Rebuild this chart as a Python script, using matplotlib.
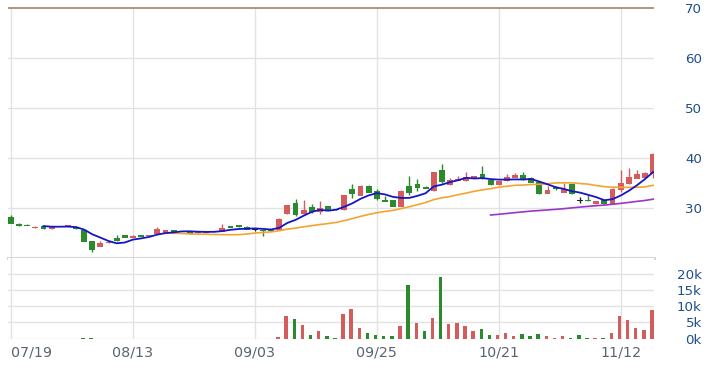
import matplotlib
matplotlib.use("Agg")
import matplotlib.pyplot as plt
import numpy as np
import pandas as pd

# ---------------- data ----------------
dates = ["07/19", "08/13", "09/03", "09/25", "10/21", "11/12"]
date_idx = [0, 15, 30, 45, 60, 75]

opens = [28.3, 26.9, 26.6, 26.0, 26.5, 25.8, 26.3, 26.3, 26.3, 25.6,
         23.4, 22.3, 23.0, 24.1, 24.7, 24.1, 24.7, 24.5, 24.9, 25.1,
         25.6, 25.4, 25.3, 25.0, 25.0, 25.2, 25.3, 26.4, 26.6, 26.3,
         25.6, 25.6, 25.7, 25.6, 28.8, 31.0, 28.8, 30.3, 29.3, 30.4,
         29.7, 29.6, 33.8, 32.5, 34.5, 33.5, 31.7, 31.6, 30.3, 34.5,
         34.7, 34.3, 33.4, 37.5, 34.6, 35.5, 35.4, 35.9, 36.7, 35.7,
         34.6, 35.4, 36.1, 36.6, 36.1, 35.1, 32.9, 34.1, 33.1, 34.7,
         31.4, 31.6, 30.8, 31.7, 30.8, 33.6, 34.7, 35.9, 36.1, 36.9]
highs = [28.5, 26.9, 26.8, 26.3, 26.5, 26.3, 26.4, 26.6, 26.3, 25.6,
         23.4, 23.5, 23.3, 24.5, 24.7, 24.5, 24.7, 24.7, 26.2, 25.6,
         25.6, 25.4, 25.3, 25.4, 25.4, 25.3, 26.7, 26.4, 26.6, 26.3,
         25.8, 25.6, 25.7, 27.9, 30.6, 31.8, 31.6, 30.8, 31.3, 30.4,
         29.7, 32.6, 34.8, 34.5, 34.5, 33.8, 32.3, 31.6, 33.5, 36.3,
         35.7, 34.3, 37.1, 38.8, 36.0, 36.4, 37.2, 36.4, 38.3, 35.7,
         35.4, 36.7, 37.0, 37.2, 36.1, 35.1, 34.3, 34.3, 34.9, 34.7,
         32.2, 32.6, 31.4, 31.7, 33.9, 37.6, 37.9, 37.5, 37.1, 40.9]
lows = [26.9, 26.4, 26.5, 26.0, 25.8, 25.8, 26.3, 26.3, 25.8, 23.3,
        21.2, 22.3, 23.0, 23.5, 24.1, 24.1, 24.3, 24.5, 24.9, 25.1,
        25.2, 25.3, 24.8, 25.0, 25.0, 25.2, 25.3, 26.1, 26.2, 25.7,
        25.4, 24.3, 25.5, 25.6, 28.8, 28.3, 28.8, 29.0, 28.7, 29.7,
        29.6, 29.6, 32.0, 32.5, 33.1, 31.6, 31.3, 30.3, 30.3, 32.6,
        33.4, 33.9, 33.4, 35.0, 34.6, 35.5, 35.4, 35.9, 35.7, 34.6,
        34.6, 35.4, 36.1, 35.6, 35.1, 32.8, 32.9, 33.6, 33.1, 32.8,
        30.9, 31.35, 30.8, 30.8, 30.8, 33.2, 34.7, 35.9, 36.1, 36.0]
closes = [26.9, 26.4, 26.5, 26.3, 25.8, 26.3, 26.4, 26.6, 25.8, 23.3,
          21.6, 23.1, 23.2, 23.5, 24.1, 24.5, 24.3, 24.7, 25.8, 25.6,
          25.2, 25.3, 24.8, 25.4, 25.4, 25.3, 26.0, 26.1, 26.2, 25.7,
          25.6, 25.5, 25.5, 27.9, 30.6, 28.6, 29.7, 29.3, 30.0, 29.7,
          29.6, 32.6, 32.8, 34.5, 33.1, 31.9, 31.3, 30.3, 33.5, 33.1,
          33.95, 33.9, 37.1, 35.3, 35.6, 35.9, 36.3, 36.4, 35.7, 34.6,
          35.4, 36.3, 36.6, 35.6, 35.1, 32.8, 33.6, 33.7, 33.9, 32.8,
          31.4, 31.35, 31.4, 30.8, 33.9, 35.0, 36.1, 36.9, 37.1, 40.9]
volume_k = [0, 0, 0, 0, 0, 0, 0, 0, 0, 0.3,
            0.3, 0, 0, 0, 0, 0, 0, 0, 0, 0,
            0, 0, 0, 0, 0, 0, 0, 0, 0, 0,
            0, 0, 0, 0.4, 6.9, 6.2, 4.2, 1.0, 2.3, 0.7,
            0.2, 7.7, 9.3, 3.4, 1.7, 1.0, 0.7, 0.7, 3.75, 16.6,
            4.8, 2.3, 6.5, 19.0, 4.4, 4.8, 3.75, 2.3, 2.8, 1.0,
            1.0, 1.7, 0.7, 1.4, 0.7, 1.4, 0.7, 0.2, 0.7, 0.2,
            1.0, 0.2, 0.2, 0.2, 1.7, 6.9, 5.6, 3.4, 2.6, 8.7]

price_ticks = [30, 40, 50, 60, 70]
vol_ticks = [0, 5, 10, 15, 20]
vol_tick_labels = ["0k", "5k", "10k", "15k", "20k"]

# ---------------- style ----------------
RED = "#d35c5c"
GREEN = "#2b8a2b"
BLACK = "#222222"
GRID = "#e2e2e2"
LBL_R = "#1f4f8c"
LBL_D = "#5a6470"

W, H = 707, 365
fig = plt.figure(figsize=(W / 100, H / 100), dpi=100)
fig.patch.set_facecolor("white")


def rect(l, t, r, b):
    return [l / W, 1 - b / H, (r - l) / W, (b - t) / H]


ax = fig.add_axes(rect(8, 0, 654, 258))
axv = fig.add_axes(rect(8, 258, 654, 338.5), sharex=ax)

n = len(closes)
x = np.arange(n)
o = np.array(opens)
c = np.array(closes)
hi = np.array(highs)
lo = np.array(lows)

xl = (-0.37, 79.1)
ax.set_xlim(*xl)
ax.set_ylim(20, 71.6)
axv.set_ylim(0, 25)

for a in (ax, axv):
    for s in a.spines.values():
        s.set_visible(False)
    a.set_facecolor("white")

# grids
for yv in [30, 40, 50, 60]:
    ax.axhline(yv, color=GRID, lw=1.0, zorder=0)
ax.axhline(70, color="#a98d74", lw=1.3, zorder=1)
ax.axhline(20, color="#d6d6d6", lw=2.2, zorder=1, clip_on=False)
for yv in [0, 5, 10, 15, 20]:
    axv.axhline(yv, color=GRID, lw=1.0, zorder=0)
for xi in date_idx:
    ax.axvline(xi, ymin=0, ymax=(70 - 20) / (71.6 - 20), color=GRID, lw=1.0, zorder=0)
    axv.axvline(xi, color=GRID, lw=1.0, zorder=0)

# candles
cols = []
for i in range(n):
    if c[i] > o[i]:
        cols.append(RED)
    elif c[i] < o[i]:
        cols.append(GREEN)
    else:
        cols.append(BLACK)
ax.vlines(x, lo, hi, colors=cols, lw=1.0, zorder=2)
body_bottom = np.minimum(o, c)
body_h = np.maximum(np.abs(c - o), 0.12)
ax.bar(x, body_h, bottom=body_bottom, width=0.72, color=cols, edgecolor="none", zorder=3)

# moving averages
cs = pd.Series(closes)
ma5 = cs.rolling(5).mean()
ma20 = cs.rolling(20).mean()
ma60 = cs.rolling(60).mean()
ax.plot(x, ma20, color="#f2a530", lw=1.2, zorder=4)
ax.plot(x, ma60, color="#9b35c8", lw=1.2, zorder=4)
ax.plot(x, ma5, color="#1515c8", lw=1.3, zorder=5)

# volume
prev = np.concatenate([[o[0]], c[:-1]])
vcols = [RED if c[i] >= prev[i] else GREEN for i in range(n)]
axv.bar(x - 0.15, volume_k, width=0.42, color=vcols, edgecolor="none", zorder=3)

# ticks
ax.yaxis.tick_right()
ax.set_yticks(price_ticks)
ax.set_yticklabels([str(t) for t in price_ticks])
ax.tick_params(axis="y", length=0, pad=34.5, labelsize=9.6, labelcolor=LBL_R)
for t in ax.get_yticklabels():
    t.set_horizontalalignment("right")
ax.tick_params(axis="x", length=0, labelbottom=False)

axv.yaxis.tick_right()
axv.set_yticks(vol_ticks)
axv.set_yticklabels(vol_tick_labels)
axv.tick_params(axis="y", length=0, pad=34.5, labelsize=9.6, labelcolor=LBL_R)
for t in axv.get_yticklabels():
    t.set_horizontalalignment("right")

axv.set_xticks(date_idx)
axv.set_xticklabels(dates)
axv.tick_params(axis="x", length=0, pad=5, labelsize=10.3, labelcolor=LBL_D)
axv.get_xticklabels()[0].set_horizontalalignment("left")

fig.savefig("out.png", dpi=100, facecolor="white")
